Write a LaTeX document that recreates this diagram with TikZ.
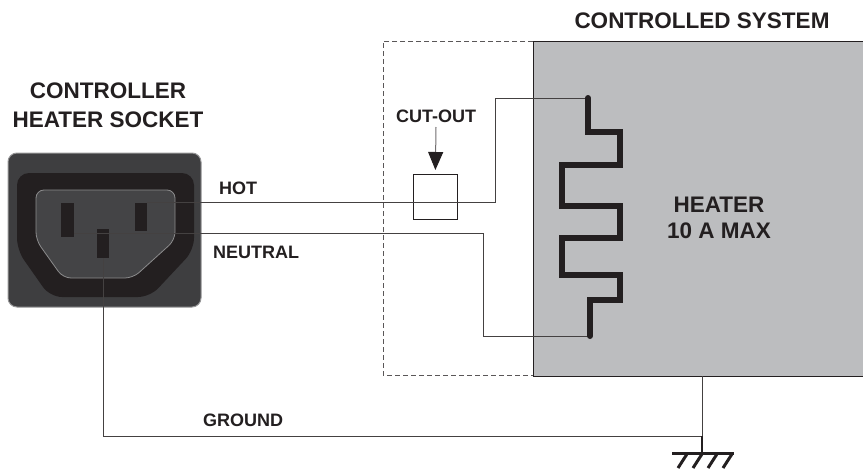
\documentclass[tikz,border=0pt]{standalone}
\usepackage{fontspec}
\setmainfont{Liberation Sans}
\usetikzlibrary{arrows.meta}

\definecolor{boxgrey}{HTML}{BCBDBF}
\definecolor{socketgrey}{HTML}{3E3E40}
\definecolor{recessgrey}{HTML}{444446}
\definecolor{inkblack}{HTML}{231F20}

\tikzset{
  wire/.style={draw=inkblack!85, line width=1pt},
  lbltext/.style={font=\bfseries\fontsize{18}{22}\selectfont, text=inkblack, inner sep=0pt},
  titletext/.style={font=\bfseries\fontsize{22.5}{29}\selectfont, text=inkblack, inner sep=0pt, align=center},
  pin/.style={rectangle, fill=inkblack, inner sep=0pt, anchor=north west},
}

\begin{document}
\begin{tikzpicture}[x=1pt,y=-1pt]
        \useasboundingbox (0,0) rectangle (863,471);

        % Draw the controlled system and the dashed enclosure
        \fill[boxgrey] (533,41) rectangle (863,376);
        \draw[inkblack, line width=0.8pt] (863,41) -- (533,41) -- (533,376) -- (863,376);
        \draw[inkblack!75, line width=0.8pt, dash pattern=on 5pt off 3pt] (533,41) -- (383,41) -- (383,375) -- (533,375);

        % Draw the socket body
        \draw[fill=socketgrey, draw=socketgrey!55!white, line width=1pt, rounded corners=9] (8,153) rectangle (201,307);
        \fill[inkblack, rounded corners=12] (17,173) -- (194,173) -- (194,250) -- (150,297) -- (50,297) -- (17,250) -- cycle;
        \draw[fill=recessgrey, draw=socketgrey!60!white, line width=0.8pt, rounded corners=8]
          (36,190) -- (175,190) -- (175,240) -- (133,278) -- (63,278) -- (36,240) -- cycle;

        % Draw the pins
        \node[pin, minimum width=13, minimum height=34] (lpin) at (61,203) {};
        \node[pin, minimum width=12, minimum height=28] (rpin) at (135,203) {};
        \node[pin, minimum width=12, minimum height=29] (gpin) at (97,229) {};

        % Heater ends and wire bends
        \coordinate (htop) at (588,98);
        \coordinate (hbot) at (590,336);
        \coordinate (hotbend) at (495,98);
        \coordinate (neubend) at (483,336);
        \coordinate (sysbot) at (702,376);
        \coordinate (gnd) at (702,436);

        % Draw the cut-out
        \node[draw=inkblack, line width=0.8pt, inner sep=0pt, minimum width=44, minimum height=45, anchor=north west] (cutout) at (413,174) {};
        \node[lbltext, anchor=base] (cutlbl) at (436,122) {CUT-OUT};
        \draw[draw=inkblack!65, line width=1pt, -{Triangle[length=18pt,width=15pt,color=inkblack]}]
          ([yshift=-5pt]cutlbl.base) -- ([yshift=4pt]cutout.north);

        % Draw the wires
        \draw[wire] ([yshift=1pt]rpin.north east) -| (hotbend) -- (htop);
        \draw[wire] ([yshift=4pt]lpin.south east) -| (neubend) -- (hbot);
        \draw[wire] (gpin.south) |- (gnd);
        \draw[wire] (sysbot) -- (gnd);

        % Draw the heater element
        \draw[inkblack, line width=6pt, line cap=round, line join=miter]
          (htop) -- (588,132) -- (620,132) -- (620,165) -- (562,165) -- (562,206) -- (620,206)
          -- (620,238) -- (562,238) -- (562,275) -- (620,275) -- (620,300) -- (590,300) -- (hbot);

        % Draw the ground symbol
        \draw[inkblack, line width=2.5pt] (gnd) -- ++(0,17);
        \draw[inkblack, line width=3pt] (672,453) -- (734,453);
        \foreach \hx in {687,702,717,732}
          \draw[inkblack, line width=3pt] (\hx,454) -- ++(-9,14);

        % Write the labels
        \node[titletext] (socketlbl) at (108,105) {CONTROLLER\\HEATER SOCKET};
        \node[titletext, anchor=base] (systemlbl) at (702,28) {CONTROLLED SYSTEM};
        \node[titletext, font=\bfseries\fontsize{22.5}{26}\selectfont] (heaterlbl) at (719,217.5) {HEATER\\10 A MAX};
        \node[lbltext, anchor=base west] (hotlbl) at (219,194) {HOT};
        \node[lbltext, anchor=base west] (neutrallbl) at (213,258) {NEUTRAL};
        \node[lbltext, anchor=base west] (groundlbl) at (203,426) {GROUND};

      \end{tikzpicture}
\end{document}
